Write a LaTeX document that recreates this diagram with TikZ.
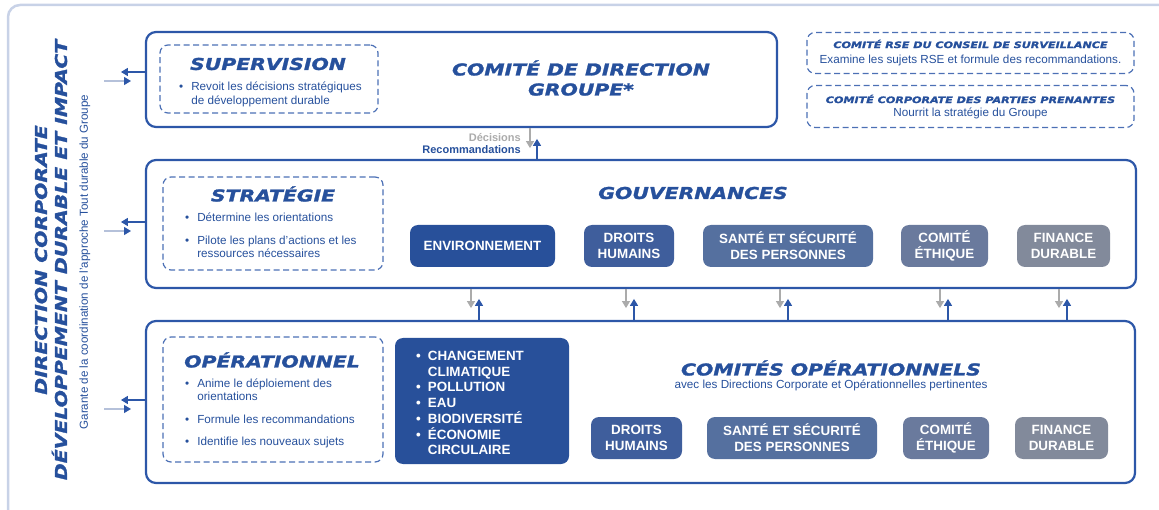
\documentclass[tikz,border=0pt]{standalone}
\usepackage{fontspec}
\setmainfont{Liberation Sans}
\newfontfamily\headfont{DejaVu Sans}[FakeStretch=1.25,FakeBold=1.6]
\usetikzlibrary{arrows.meta}
\definecolor{frameblue}{HTML}{2D57A8}
\definecolor{textblue}{HTML}{26509C}
\definecolor{envblue}{HTML}{28509A}
\definecolor{dhblue}{HTML}{3F5E9C}
\definecolor{ssblue}{HTML}{55709F}
\definecolor{ethblue}{HTML}{6A7A9D}
\definecolor{fingray}{HTML}{828A9B}
\definecolor{arrowgray}{HTML}{ABABAB}
\definecolor{outerline}{HTML}{C8D2E7}
\definecolor{lightline}{HTML}{B5C1DA}

\begin{document}
\begin{tikzpicture}[x=1pt,y=-1pt,
    panel/.style={draw=frameblue,line width=2.2pt,rounded corners=10pt,inner sep=0pt},
    dashbox/.style={draw=frameblue!85,line width=1.2pt,dash pattern=on 6pt off 3.5pt,rounded corners=8pt,inner sep=0pt},
    tag/.style={rounded corners=8pt,text=white,font=\fontsize{13.4}{16}\selectfont\bfseries,align=center,minimum height=42pt,inner sep=0pt},
    head/.style={text=textblue,font=\headfont\bfseries\itshape\fontsize{16.3}{20}\selectfont,align=center,inner sep=0pt},
    small head/.style={text=textblue,font=\headfont\bfseries\itshape\fontsize{8.9}{10}\selectfont,inner sep=0pt},
    body/.style={text=textblue,font=\fontsize{11.7}{13.5}\selectfont,inner sep=0pt},
    down arrow/.style={-{Triangle[width=8pt,length=7pt]},draw=arrowgray,line width=1.3pt},
    up arrow/.style={-{Triangle[width=8pt,length=7pt]},draw=frameblue,line width=1.5pt},
    out arrow/.style={-{Triangle[width=8pt,length=7pt]},draw=frameblue,line width=1.5pt},
    in arrow/.style={-{Triangle[width=8pt,length=7pt,color=frameblue]},draw=lightline,line width=1.3pt}]
  \useasboundingbox (0,0) rectangle (1159,510);

  % outer frame of the Direction Corporate
  \draw[outerline,line width=2.5pt,rounded corners=12pt] (1159,5) -- (8,5) -- (8,512);
  \node[head,rotate=90] (dir) at (51,260) {DIRECTION CORPORATE\\DÉVELOPPEMENT DURABLE ET IMPACT};
  \node[body,rotate=90,font=\fontsize{11.6}{13}\selectfont] (dirsub) at (85,262) {Garante de la coordination de l'approche Tout durable du Groupe};

  % the three levels
  \node[panel,minimum width=631pt,minimum height=95pt] (sup) at (461.5,79.5) {};
  \node[panel,minimum width=990pt,minimum height=128pt] (gouv) at (641,224) {};
  \node[panel,minimum width=989pt,minimum height=162pt] (oper) at (640.5,402) {};

  \node[dashbox,minimum width=218pt,minimum height=68pt] (supdash) at (269,79) {};
  \node[dashbox,minimum width=220pt,minimum height=93pt] (stratdash) at (273,223.5) {};
  \node[dashbox,minimum width=220pt,minimum height=125pt] (operdash) at (273,399.5) {};

  \node[head] (suptitle) at (268,64) {SUPERVISION};
  \node[body,anchor=west] (supbody) at (179,95) {\begin{tabular}{@{}l@{\hspace{8pt}}l@{}}
      • & Revoit les décisions stratégiques\\
        & de développement durable
    \end{tabular}};
  \node[head] (cdg) at (581,78) {COMITÉ DE DIRECTION\\GROUPE*};

  \node[head] (strattitle) at (273,194) {STRATÉGIE};
  \node[body,anchor=west] (stratbody) at (185,237) {\begin{tabular}{@{}l@{\hspace{8pt}}l@{}}
      • & Détermine les orientations\\[9pt]
      • & Pilote les plans d’actions et les\\
        & ressources nécessaires
    \end{tabular}};
  \node[head] (gouvtitle) at (693,193) {GOUVERNANCES};

  \node[head] (opertitle) at (272,360) {OPÉRATIONNEL};
  \node[body,anchor=west] (operbody) at (185,414) {\begin{tabular}{@{}l@{\hspace{8pt}}l@{}}
      • & Anime le déploiement des\\
        & orientations\\[9pt]
      • & Formule les recommandations\\[9pt]
      • & Identifie les nouveaux sujets
    \end{tabular}};
  \node[head] (cotitle) at (831,368) {COMITÉS OPÉRATIONNELS};
  \node[body] (cosub) at (831,385) {avec les Directions Corporate et Opérationnelles pertinentes};

  % side committees
  \node[dashbox,minimum width=327pt,minimum height=41pt] (rse) at (970.5,53) {};
  \node[dashbox,minimum width=327pt,minimum height=42pt] (pp) at (970.5,106.5) {};
  \node[small head] (rsetitle) at (970.5,44) {COMITÉ RSE DU CONSEIL DE SURVEILLANCE};
  \node[body] (rsetext) at (970.5,60) {Examine les sujets RSE et formule des recommandations.};
  \node[small head] (pptitle) at (970.5,99) {COMITÉ CORPORATE DES PARTIES PRENANTES};
  \node[body] (pptext) at (970.5,113) {Nourrit la stratégie du Groupe};

  % governance row
  \node[tag,fill=envblue,minimum width=145pt] (env) at (482.5,246) {ENVIRONNEMENT};
  \node[tag,fill=dhblue,minimum width=90pt] (dh) at (629,246) {DROITS\\HUMAINS};
  \node[tag,fill=ssblue,minimum width=170pt] (ss) at (788,246) {SANTÉ ET SÉCURITÉ\\DES PERSONNES};
  \node[tag,fill=ethblue,minimum width=87pt] (eth) at (944.5,246) {COMITÉ\\ÉTHIQUE};
  \node[tag,fill=fingray,minimum width=93pt] (fin) at (1063.5,246) {FINANCE\\DURABLE};

  % operational row
  \node[tag,fill=envblue,minimum width=174pt,minimum height=126pt] (envbox) at (482,401) {};
  \node[tag,anchor=west,align=left] (envlist) at (416,404.5) {\begin{tabular}{@{}l@{\hspace{7pt}}l@{}}
      • & CHANGEMENT\\[-0.5pt]
        & CLIMATIQUE\\[-0.5pt]
      • & POLLUTION\\[-0.5pt]
      • & EAU\\[-0.5pt]
      • & BIODIVERSITÉ\\[-0.5pt]
      • & ÉCONOMIE\\[-0.5pt]
        & CIRCULAIRE
    \end{tabular}};
  \node[tag,fill=dhblue,minimum width=91pt] (dhop) at (636.5,438) {DROITS\\HUMAINS};
  \node[tag,fill=ssblue,minimum width=170pt] (ssop) at (792,438) {SANTÉ ET SÉCURITÉ\\DES PERSONNES};
  \node[tag,fill=ethblue,minimum width=86pt] (ethop) at (946,438) {COMITÉ\\ÉTHIQUE};
  \node[tag,fill=fingray,minimum width=93pt] (finop) at (1061.5,438) {FINANCE\\DURABLE};

  % decisions and recommendations
  \draw[down arrow] (sup.south -| 530,0) -- ++(0,20);
  \draw[up arrow] (gouv.north -| 537,0) -- ++(0,-20);
  \node[body,anchor=east,text=arrowgray,font=\fontsize{11}{13}\selectfont\bfseries] (dec) at (521,138) {Décisions};
  \node[body,anchor=east,font=\fontsize{11}{13}\selectfont\bfseries] (reco) at (521,150) {Recommandations};

  \foreach \xg/\xb in {471/479, 626/634, 780/788, 940/948, 1059/1067} {
    \draw[down arrow] (gouv.south -| \xg,0) -- ++(0,19);
    \draw[up arrow] (oper.north -| \xb,0) -- ++(0,-21);
  }

  % links with the Direction Corporate
  \foreach \p/\y in {sup/72, gouv/222, oper/400} {
    \draw[out arrow] (\p.west |- 0,\y) -- ++(-24,0);
    \draw[in arrow] (104,\y+9) -- ++(27,0);
  }
\end{tikzpicture}
\end{document}
